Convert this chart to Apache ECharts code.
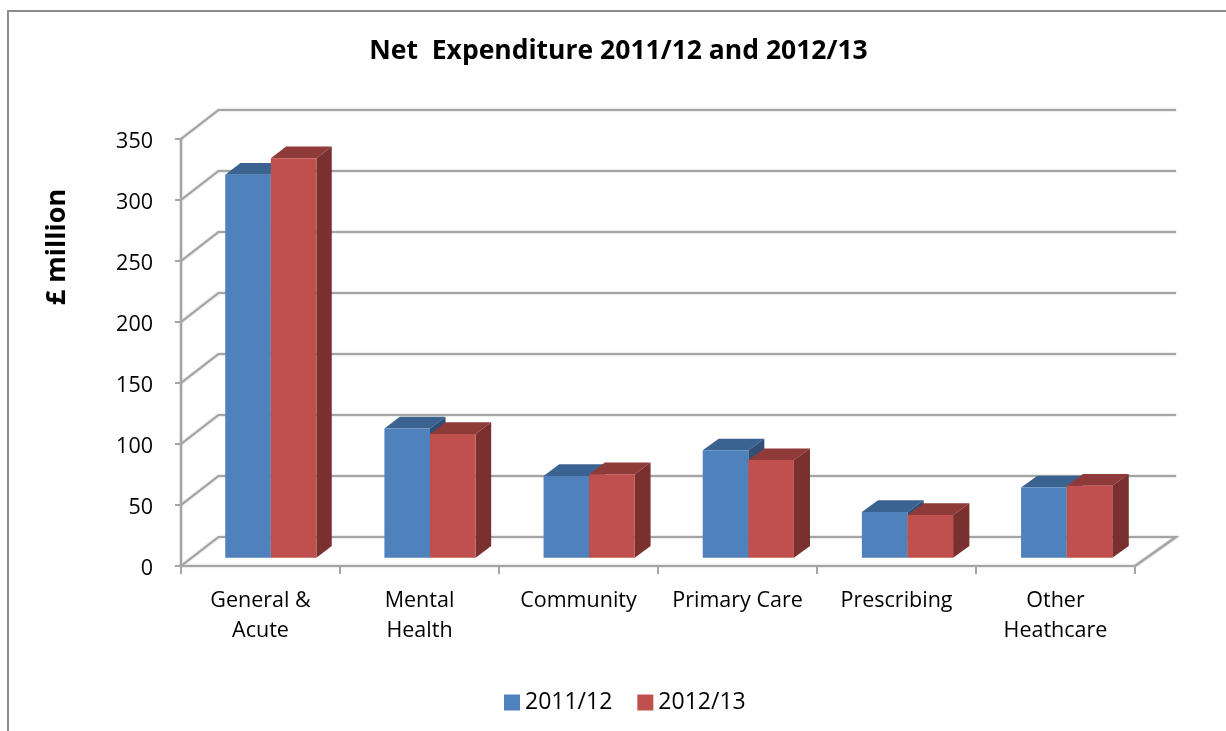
<!DOCTYPE html>
<html>
<head>
<meta charset="utf-8">
<style>html,body{margin:0;padding:0;background:#fff}#c{width:1226px;height:731px}</style>
<script src="https://cdn.jsdelivr.net/npm/echarts@6/dist/echarts.min.js"></script>
</head>
<body>
<div id="c"></div>
<script>
// Net expenditure by care programme, £ million
const categories = ['General &\nAcute', 'Mental\nHealth', 'Community', 'Primary Care', 'Prescribing', 'Other\nHeathcare'];
const spend2011 = [314, 106, 67, 88, 37.5, 57.5];
const spend2012 = [327.5, 101.5, 68.5, 80, 35, 59];
const yTicks = [0, 50, 100, 150, 200, 250, 300, 350];
const seriesNames = ['2011/12', '2012/13'];

const FONT = '"Open Sans"';
const GRID_LINE = '#a4a4a4';
const DEPTH_X_LEFT = 37.5, DEPTH_X_RIGHT = 41, DEPTH_Y = 29;
const BAR_NEAR = 0.286, BAR_FAR = 0.69;
const GRID_LEFT = 181, GRID_RIGHT = 1135;

// Slanted projection: depth 0 is the front plane, depth 1 the back wall
function project(api, cat, value, depth, shift) {
  const p = api.coord([cat, value]);
  const x = p[0] + (shift || 0);
  const t = (x - GRID_LEFT) / (GRID_RIGHT - GRID_LEFT);
  return [x + depth * (DEPTH_X_LEFT + t * (DEPTH_X_RIGHT - DEPTH_X_LEFT)), p[1] - depth * DEPTH_Y];
}

function poly(points, color, z2) {
  return { type: 'polygon', z2: z2, shape: { points: points }, style: { fill: color } };
}

// One block of a pair: front face, top face and right side face
function barRenderer(seriesPos, front, top, side) {
  return function (params, api) {
    const cat = api.value(0), val = api.value(1);
    const band = api.size([1, 0])[0];
    const barW = band * 0.2865;
    const start = -band / 2 + band * 0.2105 + seriesPos * barW;
    const end = start + barW;
    const pt = (v, d, s) => project(api, cat, v, d, s);
    return {
      type: 'group',
      children: [
        poly([pt(val, BAR_NEAR, start), pt(val, BAR_FAR, start), pt(val, BAR_FAR, end), pt(val, BAR_NEAR, end)], top, 1),
        poly([pt(0, BAR_NEAR, end), pt(0, BAR_FAR, end), pt(val, BAR_FAR, end), pt(val, BAR_NEAR, end)], side, 2),
        poly([pt(0, BAR_NEAR, start), pt(0, BAR_NEAR, end), pt(val, BAR_NEAR, end), pt(val, BAR_NEAR, start)], front, 3)
      ]
    };
  };
}

// Wall grid: a slanted stroke from each y tick, then a level line along the back wall
function wallRenderer(params, api) {
  const v = api.value(0);
  const last = categories.length - 1;
  const a = api.coord([0, v]);
  const halfBand = api.size([1, 0])[0] / 2;
  const x0 = a[0] - halfBand, x1 = api.coord([last, v])[0] + halfBand, y = a[1];
  const points = [[x0, y], [x0 + DEPTH_X_LEFT, y - DEPTH_Y], [x1 + DEPTH_X_RIGHT, y - DEPTH_Y]];
  if (v === 0) points.push([x1, y]);
  return {
    type: 'polyline',
    shape: { points: points },
    style: { fill: null, stroke: GRID_LINE, lineWidth: 2.2, shadowBlur: 2, shadowColor: '#bdbdbd' }
  };
}

const axisStroke = { color: GRID_LINE, width: 2.2, shadowBlur: 2, shadowColor: '#bdbdbd' };

const chart = echarts.init(document.getElementById('c'));
chart.setOption({
  animation: false,
  backgroundColor: '#fff',
  title: {
    text: 'Net  Expenditure 2011/12 and 2012/13',
    left: 613.5, top: 33, textAlign: 'center',
    textStyle: { fontFamily: FONT, fontSize: 26.5, fontWeight: 'bold', color: '#000' }
  },
  legend: {
    data: seriesNames,
    left: 499, top: 686,
    icon: 'rect', itemWidth: 16, itemHeight: 16, itemGap: 25,
    textStyle: { fontFamily: FONT, fontSize: 23, color: '#000' }
  },
  grid: { left: GRID_LEFT, right: 1226 - GRID_RIGHT, top: 139, bottom: 731 - 566 },
  xAxis: {
    type: 'category',
    data: categories,
    axisLine: { lineStyle: axisStroke },
    axisTick: { show: true, alignWithLabel: false, length: 8, lineStyle: { color: GRID_LINE, width: 2 } },
    axisLabel: { fontFamily: FONT, fontSize: 21.5, color: '#000', margin: 20, lineHeight: 30, interval: 0 }
  },
  yAxis: {
    type: 'value',
    min: 0, max: 350, interval: 50,
    splitLine: { show: false },
    axisLine: { show: true, lineStyle: axisStroke },
    axisTick: { show: true, length: 6, lineStyle: { color: GRID_LINE, width: 2 } },
    axisLabel: {
      margin: 28,
      formatter: '{tick|{value}}',
      rich: { tick: { fontFamily: FONT, fontSize: 21.5, color: '#000', padding: [6, 0, 0, 0] } }
    }
  },
  graphic: [
    { type: 'polyline', silent: true, z: -1,
      shape: { points: [[8, 731], [8, 11], [1226, 11]] },
      style: { fill: null, stroke: '#8c8c8c', lineWidth: 2 } },
    { type: 'text', x: 57, y: 247, rotation: Math.PI / 2, silent: true,
      style: { text: '£ million', fontFamily: FONT, fontSize: 27, fontWeight: 'bold', fill: '#000',
        align: 'center', verticalAlign: 'middle' } }
  ],
  series: [
    { type: 'custom', name: 'wall', z: 1, silent: true, clip: false,
      coordinateSystem: 'cartesian2d', data: yTicks.map(v => [v]),
      encode: { y: 0 }, renderItem: wallRenderer },
    { type: 'custom', name: seriesNames[0], z: 2, clip: false,
      itemStyle: { color: '#4f81bd' },
      data: spend2011.map((v, i) => [i, v]), encode: { x: 0, y: 1 },
      renderItem: barRenderer(0, '#4f81bd', '#3a6391', '#2f4f75') },
    { type: 'custom', name: seriesNames[1], z: 3, clip: false,
      itemStyle: { color: '#c0504d' },
      data: spend2012.map((v, i) => [i, v]), encode: { x: 0, y: 1 },
      renderItem: barRenderer(1, '#c0504d', '#8e3a38', '#7a302e') }
  ]
});
</script>
</body>
</html>
